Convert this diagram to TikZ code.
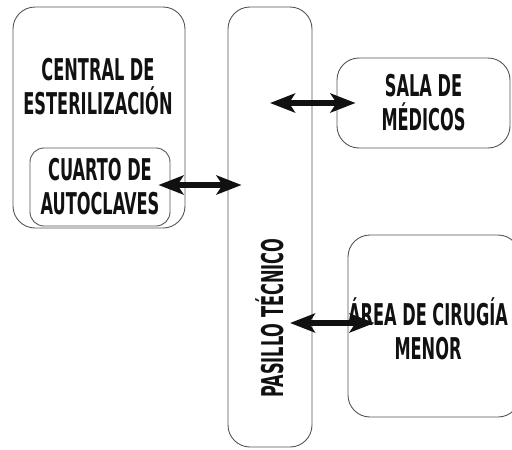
\documentclass[tikz,border=0pt]{standalone}
\usepackage{fontspec}
\setmainfont{DejaVu Sans Condensed}[FakeStretch=0.6]
\usepackage{tikz}
\usetikzlibrary{arrows.meta,calc,positioning}
\definecolor{edge}{HTML}{555555}
\definecolor{ink}{HTML}{111111}
\tikzset{
  room/.style={draw=edge, line width=0.9pt, rounded corners=22pt},
  lab/.style={text=ink, font=\bfseries\fontsize{30}{34}\selectfont, align=center},
  link/.style={draw=ink, line width=5.5pt,
    {Stealth[length=25pt,width=19pt,inset=6pt]}-{Stealth[length=25pt,width=19pt,inset=6pt]}}
}

\begin{document}
\begin{tikzpicture}[x=1pt,y=-1pt]
  \useasboundingbox (0,0) rectangle (512,450);

  % rooms
  \node[room, minimum width=172pt, minimum height=221pt] (central) at (99,117.5) {};
  \node[lab] (centraltxt) at (98,87) {CENTRAL DE\\ESTERILIZACIÓN};
  \node[room, rounded corners=14pt, minimum width=140pt, minimum height=78pt, lab]
    (autoclaves) at (100,187) {CUARTO DE\\AUTOCLAVES};
  \node[room, minimum width=84pt, minimum height=440pt] (pasillo) at (270,227) {};
  \node[lab, rotate=90] (pasillotxt) at (270,318) {PASILLO TÉCNICO};
  \node[room, minimum width=173pt, minimum height=90pt, lab] (sala) at (423.5,103) {SALA DE\\MÉDICOS};
  \node[room, minimum width=172pt, minimum height=182pt] (cirugia) at (434,326) {};
  \node[lab] (cirugiatxt) at (428,329) {ÁREA DE CIRUGÍA\\MENOR};

  % accesses to the corridor
  \draw[link] ($(autoclaves.east)+(-12,-2)$) -- ($(pasillo.west |- autoclaves.east)+(14,-2)$);
  \draw[link] (pasillo.center |- sala.west) -- ($(sala.west)+(19,0)$);
  \draw[link] ($(pasillo.center |- cirugia.west)+(20,-3)$) -- ($(cirugia.west)+(27,-3)$);
\end{tikzpicture}
\end{document}
